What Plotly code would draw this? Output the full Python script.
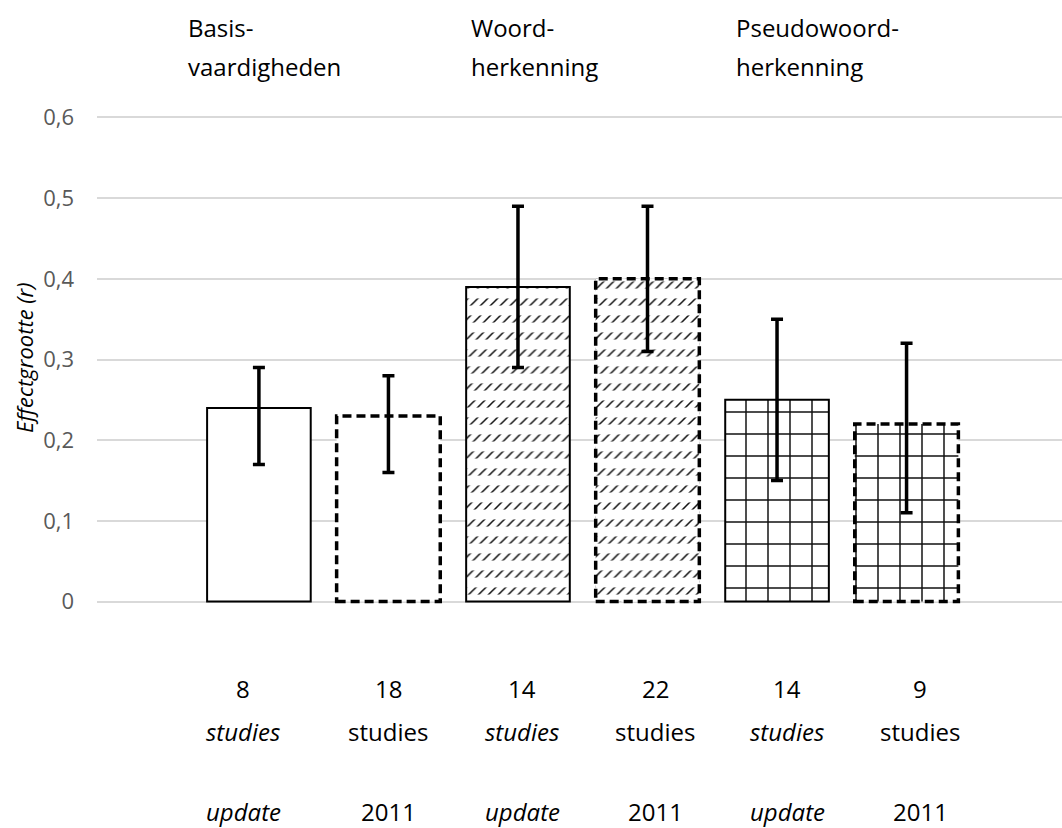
import plotly.graph_objects as go

# Effect sizes (r) per domain: current update vs. the 2011 meta-analysis
GROUP_LINE1 = ["Basis-", "Woord-", "Pseudowoord-"]
GROUP_LINE2 = ["vaardigheden", "herkenning", "herkenning"]
SOURCES = ["update", "2011", "update", "2011", "update", "2011"]
VALUES = [0.24, 0.23, 0.39, 0.40, 0.25, 0.22]
CI_UPPER = [0.29, 0.28, 0.49, 0.49, 0.35, 0.32]
CI_LOWER = [0.17, 0.16, 0.29, 0.31, 0.15, 0.11]
N_STUDIES = [8, 18, 14, 22, 14, 9]
Y_TICKS = [0, 0.1, 0.2, 0.3, 0.4, 0.5, 0.6]
Y_TICK_LABELS = ["0", "0,1", "0,2", "0,3", "0,4", "0,5", "0,6"]

FONT = "Open Sans"
W, H = 1062, 828
L, R, T, B = 97, 0, 115, 224
BAR_W = 0.8
X_RANGE = [-1.25, 6.2]
# a little headroom so the gridlines at 0 and 0.6 are kept
Y_RANGE = [-0.003, 0.603]

plot_w = W - L - R
plot_h = H - T - B


def px_x(p):
    return (p - L) / plot_w


def px_y(p):
    return (H - B - p) / plot_h


xs = list(range(len(VALUES)))
err_plus = [round(u - v, 3) for u, v in zip(CI_UPPER, VALUES)]
err_minus = [round(v - lo, 3) for v, lo in zip(VALUES, CI_LOWER)]

# fill pattern per domain: plain, diagonal hatch, grid
pattern_shape = ["", "", "/", "/", "+", "+"]
pattern_size = [7, 7, 7, 7, 22, 22]
pattern_solid = [0.22, 0.22, 0.22, 0.22, 0.13, 0.13]

fig = go.Figure()

fig.add_trace(go.Bar(
    x=xs, y=VALUES, width=BAR_W,
    marker=dict(
        color="white",
        line=dict(width=0),
        pattern=dict(shape=pattern_shape, size=pattern_size,
                     solidity=pattern_solid, fgcolor="#111111",
                     bgcolor="white", fillmode="replace"),
    ),
    hoverinfo="skip", showlegend=False,
))

# white horizontal bands break the diagonal hatch into rows of short strokes
mask_shape = ["", "", "-", "-", "", ""]
fig.add_trace(go.Bar(
    x=xs, y=VALUES, width=BAR_W,
    marker=dict(
        color="rgba(0,0,0,0)",
        line=dict(width=0),
        pattern=dict(shape=mask_shape, size=17, solidity=0.58,
                     fgcolor="white", fgopacity=1, fillmode="overlay"),
    ),
    error_y=dict(type="data", symmetric=False, array=err_plus,
                 arrayminus=err_minus, color="black", thickness=3.5,
                 width=6),
    hoverinfo="skip", showlegend=False,
))

# bar outlines: solid for the update, dashed for 2011
for i, (v, src) in enumerate(zip(VALUES, SOURCES)):
    dashed = src == "2011"
    fig.add_shape(
        type="rect", xref="x", yref="y",
        x0=i - BAR_W / 2, x1=i + BAR_W / 2, y0=0, y1=v,
        line=dict(color="black", width=3.5 if dashed else 2,
                  dash="9px,5px" if dashed else "solid"),
        fillcolor="rgba(0,0,0,0)", layer="above",
    )

annotations = []

# domain headings
head_left = [186, 469, 734]
for x0, a, b in zip(head_left, GROUP_LINE1, GROUP_LINE2):
    for text, yp in ((a, 27), (b, 67)):
        annotations.append(dict(
            text=text, xref="paper", yref="paper",
            x=px_x(x0), y=px_y(yp), xanchor="left", yanchor="middle",
            showarrow=False, font=dict(family=FONT, size=24, color="black"),
        ))

# study counts and source under each bar
label_cx = [243, 388, 522, 655, 787, 920]
for cx, n, src in zip(label_cx, N_STUDIES, SOURCES):
    italic = src == "update"
    word = "<i>studies</i>" if italic else "studies"
    srct = "<i>%s</i>" % src if italic else src
    for text, yp in ((str(n), 688), (word, 731), (srct, 811)):
        annotations.append(dict(
            text=text, xref="paper", yref="paper",
            x=px_x(cx), y=px_y(yp), xanchor="center", yanchor="middle",
            showarrow=False, font=dict(family=FONT, size=24, color="black"),
        ))

# y-axis title
annotations.append(dict(
    text="<i>Effectgrootte (r)</i>", xref="paper", yref="paper",
    x=px_x(24), y=px_y(358), xanchor="center", yanchor="middle",
    textangle=-90, showarrow=False,
    font=dict(family=FONT, size=22, color="black"),
))

fig.update_layout(
    width=W, height=H,
    margin=dict(l=L, r=R, t=T, b=B, pad=0),
    paper_bgcolor="white", plot_bgcolor="white",
    barmode="overlay",
    font=dict(family=FONT),
    annotations=annotations,
    xaxis=dict(range=X_RANGE, showgrid=False, zeroline=False,
               showticklabels=False, ticks="", fixedrange=True),
    yaxis=dict(range=Y_RANGE, tickvals=Y_TICKS, ticktext=Y_TICK_LABELS,
               showgrid=True, gridcolor="#d9d9d9", gridwidth=1.5,
               zeroline=False, ticks="", ticklabelstandoff=22,
               tickfont=dict(family=FONT, size=22, color="#595959")),
)

fig.write_html("out.html")
